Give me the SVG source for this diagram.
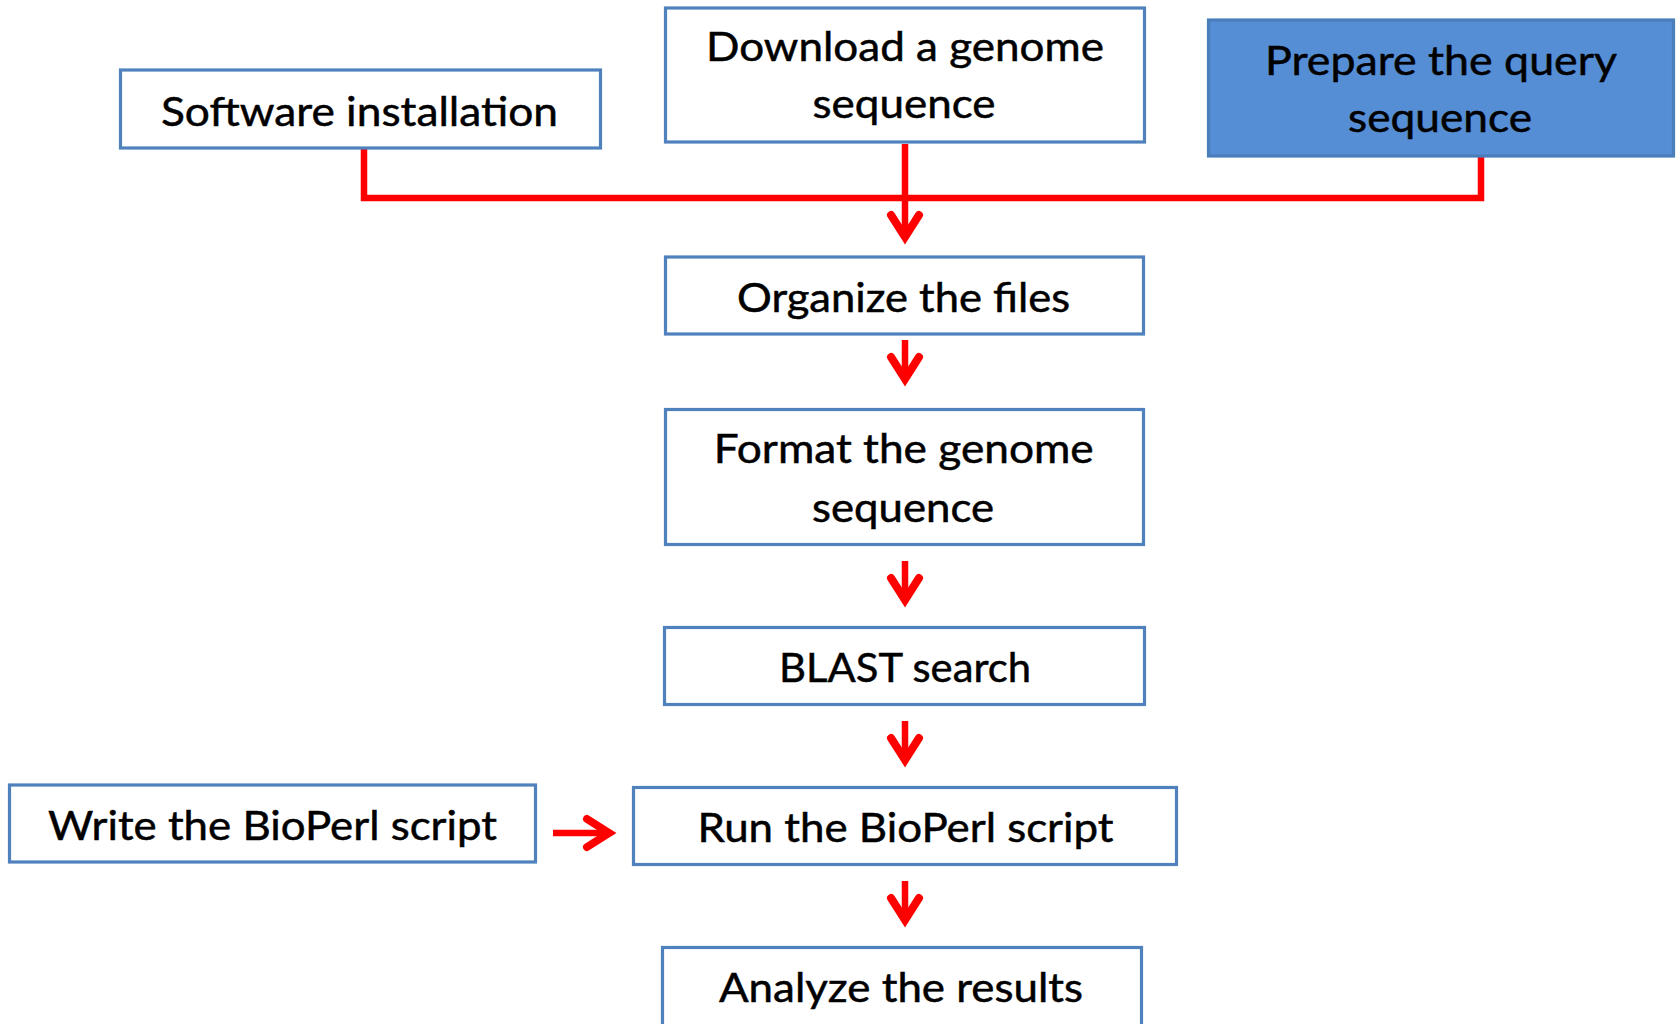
<svg xmlns="http://www.w3.org/2000/svg" xmlns:xlink="http://www.w3.org/1999/xlink" width="1680" height="1024" viewBox="0 0 1680 1024">
<style>
.box{fill:#ffffff;stroke:#4F81BD;stroke-width:3.2}
.boxf{fill:#558ED5;stroke:#4A7EBB;stroke-width:3.2}
.t{font-family:Lato,"Open Sans","Noto Sans",sans-serif;font-size:41px;fill:#000000;stroke:#000000;stroke-width:0.5;text-anchor:middle}
.ln{fill:none;stroke:#FF0000;stroke-width:6.5;stroke-linejoin:miter;stroke-linecap:butt}
.ah{fill:none;stroke:#FF0000;stroke-width:8;stroke-linecap:round;stroke-linejoin:miter;stroke-miterlimit:10}
</style>
<defs>
<path id="ahd" class="ah" d="M-14,-30 L0,-8 L14,-30"/>
</defs>
<rect width="1680" height="1024" fill="#ffffff"/>
<g id="connectors">
<path class="ln" d="M364,149 V198 H1481 V152"/>
<path class="ln" d="M905,144 V238"/>
<use xlink:href="#ahd" x="905" y="245"/>
<path class="ln" d="M905,340 V380"/>
<use xlink:href="#ahd" x="905" y="387"/>
<path class="ln" d="M905,561 V601"/>
<use xlink:href="#ahd" x="905" y="608"/>
<path class="ln" d="M905,721 V761"/>
<use xlink:href="#ahd" x="905" y="768"/>
<path class="ln" d="M905,881 V921"/>
<use xlink:href="#ahd" x="905" y="928"/>
<path class="ln" d="M553,833 H610"/>
<use xlink:href="#ahd" transform="translate(617,833) rotate(-90)"/>
</g>
<g id="software">
<rect class="box" x="120.5" y="70" width="480" height="78"/>
<text class="t" x="359.5" y="126" textLength="397" lengthAdjust="spacingAndGlyphs">Software installation</text>
</g>
<g id="download">
<rect class="box" x="665.5" y="8" width="479" height="134"/>
<text class="t" x="905" y="61" textLength="398" lengthAdjust="spacingAndGlyphs">Download a genome</text>
<text class="t" x="904" y="118" textLength="183" lengthAdjust="spacingAndGlyphs">sequence</text>
</g>
<g id="prepare">
<rect class="boxf" x="1208.5" y="20" width="465" height="136"/>
<text class="t" x="1441" y="75" textLength="352" lengthAdjust="spacingAndGlyphs">Prepare the query</text>
<text class="t" x="1440" y="132" textLength="184" lengthAdjust="spacingAndGlyphs">sequence</text>
</g>
<g id="organize">
<rect class="box" x="665.5" y="257" width="478" height="77"/>
<text class="t" x="903.5" y="312" textLength="333" lengthAdjust="spacingAndGlyphs">Organize the files</text>
</g>
<g id="format">
<rect class="box" x="665.5" y="409.5" width="478" height="135"/>
<text class="t" x="903.7" y="463" textLength="380" lengthAdjust="spacingAndGlyphs">Format the genome</text>
<text class="t" x="903" y="522" textLength="182" lengthAdjust="spacingAndGlyphs">sequence</text>
</g>
<g id="blast">
<rect class="box" x="664.5" y="627.5" width="480" height="77"/>
<text class="t" x="905" y="682" textLength="252" lengthAdjust="spacingAndGlyphs">BLAST search</text>
</g>
<g id="write">
<rect class="box" x="9.5" y="785" width="526" height="77"/>
<text class="t" x="272.5" y="840" textLength="449" lengthAdjust="spacingAndGlyphs">Write the BioPerl script</text>
</g>
<g id="run">
<rect class="box" x="633.5" y="787.5" width="543" height="77"/>
<text class="t" x="905.6" y="842" textLength="416" lengthAdjust="spacingAndGlyphs">Run the BioPerl script</text>
</g>
<g id="analyze">
<rect class="box" x="662.5" y="947.5" width="479" height="90"/>
<text class="t" x="901" y="1002" textLength="364" lengthAdjust="spacingAndGlyphs">Analyze the results</text>
</g>
</svg>
